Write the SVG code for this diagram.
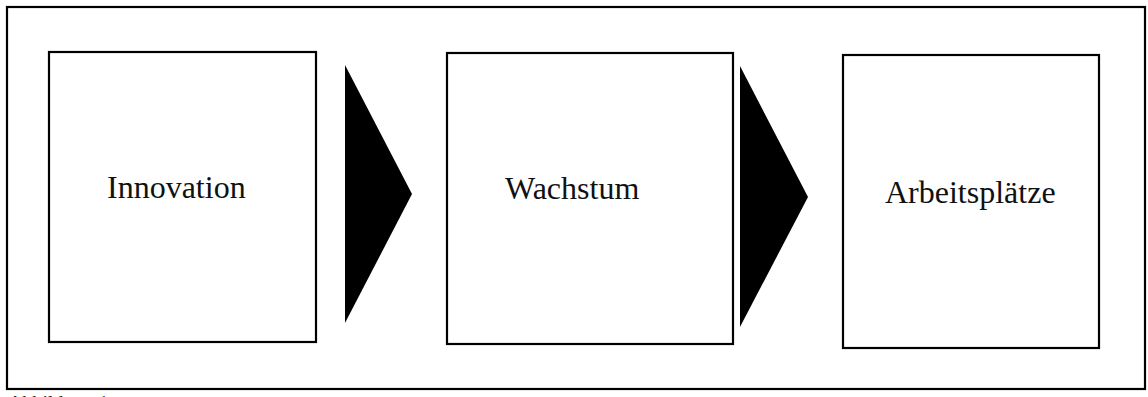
<svg xmlns="http://www.w3.org/2000/svg" width="1148" height="397" viewBox="0 0 1148 397">
  <style>
    .frame { fill: none; stroke: #000; stroke-width: 2.2; }
    .box { fill: #fff; stroke: #000; stroke-width: 2.2; }
    .arrow { fill: #000; stroke: none; }
    .label { font-family: "Liberation Serif", "Times New Roman", serif; font-size: 32px; fill: #111; }
    .caption { font-family: "Liberation Serif", "Times New Roman", serif; font-size: 20px; fill: #222; }
  </style>
  <rect width="1148" height="397" fill="#fff"/>
  <!-- outer frame -->
  <rect class="frame" x="7" y="7" width="1138" height="382"/>

  <g id="node-innovation">
    <rect class="box" x="49" y="52" width="267" height="290"/>
    <text class="label" x="107" y="198">Innovation</text>
  </g>
  <g id="node-wachstum">
    <rect class="box" x="447" y="53" width="286" height="291"/>
    <text class="label" x="505" y="199">Wachstum</text>
  </g>
  <g id="node-arbeitsplaetze">
    <rect class="box" x="843" y="55" width="256" height="293"/>
    <text class="label" x="885" y="203">Arbeitsplätze</text>
  </g>

  <g id="connectors">
    <polygon class="arrow" points="345,65 412,194 345,323"/>
    <polygon class="arrow" points="740,66 808,197 740,327"/>
  </g>

  <!-- caption line, cut off by the lower page edge -->
  <text class="caption" x="8" y="410">Abbildung 1:</text>
</svg>
